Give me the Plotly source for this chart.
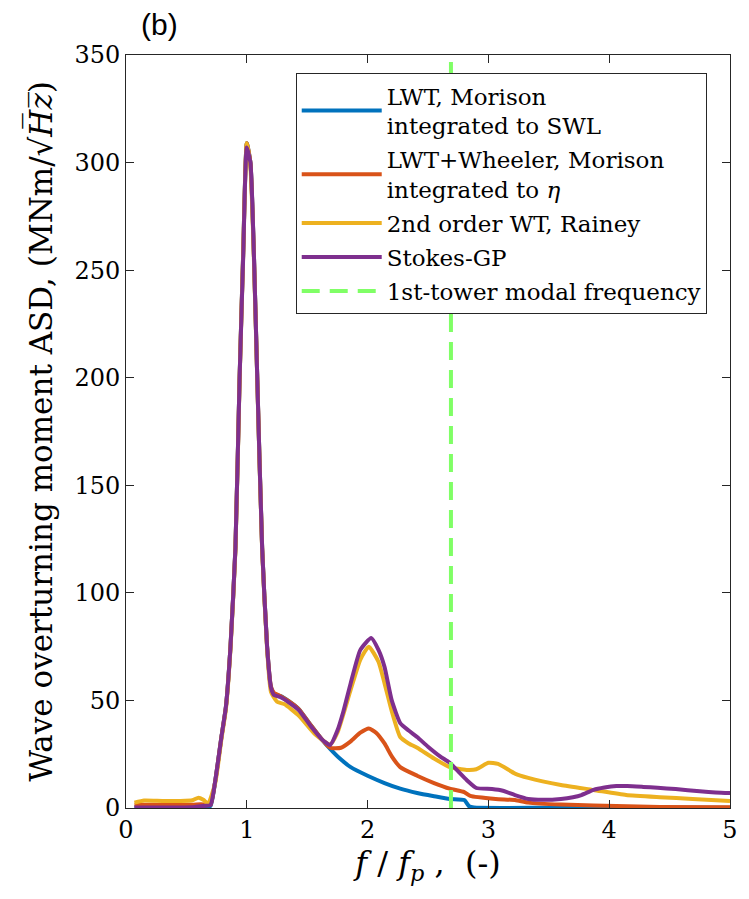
import plotly.graph_objects as go

# ---- data ----
x_lwt = [0.07, 0.3, 0.55, 0.62, 0.66, 0.70, 0.74, 0.79, 0.827, 0.865, 0.906, 0.94, 0.97, 1.0, 1.03, 1.06,
         1.087, 1.127, 1.168, 1.20, 1.225, 1.28, 1.35, 1.43, 1.53, 1.62, 1.69, 1.78, 1.86, 2.0, 2.14, 2.27,
         2.41, 2.55, 2.68, 2.8, 2.84, 2.88, 3.5, 5.0]
y_lwt = [0.3, 0.3, 0.3, 0.5, 0.5, 1.0, 13, 33, 47, 75, 121, 199, 258, 309, 300, 255,
         199, 121, 75, 56, 53, 52, 49.5, 46, 38.5, 32, 27.5, 22.5, 19, 15, 11.6, 9,
         7, 5.5, 4.2, 3.7, 0.8, 0.2, 0.1, 0.1]

x_whe = [0.07, 0.3, 0.55, 0.62, 0.66, 0.70, 0.74, 0.79, 0.827, 0.865, 0.906, 0.94, 0.97, 1.0, 1.03, 1.06,
         1.087, 1.127, 1.168, 1.20, 1.225, 1.28, 1.35, 1.43, 1.53, 1.62, 1.69, 1.78, 1.86, 1.94, 2.01, 2.07,
         2.14, 2.2, 2.27, 2.41, 2.55, 2.68, 2.8, 2.85, 3.06, 3.22, 3.33, 3.6, 3.87, 4.42, 5.0]
y_whe = [1.5, 1.5, 1.5, 1.8, 1.5, 1.5, 13, 33, 47, 75, 121, 199, 258, 309, 300, 255,
         199, 121, 75, 56.5, 53.5, 52, 49.5, 46, 38.5, 32, 28, 28, 31, 35, 37, 35,
         30, 24, 19, 15, 11.6, 9, 7.4, 5.6, 4.2, 3.7, 2.5, 1.6, 1.2, 0.5, 0.3]

x_rai = [0.07, 0.15, 0.3, 0.45, 0.55, 0.6, 0.64, 0.68, 0.74, 0.79, 0.827, 0.865, 0.906, 0.94, 0.97, 1.0,
         1.03, 1.06, 1.087, 1.127, 1.168, 1.20, 1.25, 1.31, 1.43, 1.57, 1.69, 1.75, 1.86, 1.94, 2.01, 2.09,
         2.14, 2.2, 2.27, 2.34, 2.41, 2.55, 2.68, 2.82, 2.9, 3.0, 3.08, 3.22, 3.33, 3.6, 3.87, 4.14,
         4.42, 4.69, 5.0]
y_rai = [2.5, 3.5, 3.3, 3.3, 3.6, 4.8, 3.8, 2, 12, 32, 46, 74, 120, 198, 257, 309,
         298, 253, 198, 120, 74, 54, 49.4, 48.3, 43, 34, 29.5, 35, 55, 69, 75, 68,
         58, 45, 33, 30, 28, 23, 19, 17.7, 18, 21, 20.5, 16, 14, 10.7, 8.4, 6,
         5, 4.2, 3.3]

x_sgp = [0.07, 0.3, 0.55, 0.62, 0.66, 0.70, 0.74, 0.79, 0.827, 0.865, 0.906, 0.94, 0.97, 1.0, 1.03, 1.06,
         1.087, 1.127, 1.168, 1.20, 1.225, 1.28, 1.35, 1.43, 1.53, 1.62, 1.69, 1.75, 1.80, 1.86, 1.94, 2.03,
         2.09, 2.14, 2.2, 2.27, 2.34, 2.41, 2.5, 2.6, 2.68, 2.75, 2.82, 2.9, 3.03, 3.12, 3.22, 3.33,
         3.45, 3.6, 3.7, 3.77, 3.87, 3.96, 4.06, 4.15, 4.28, 4.4, 4.55, 4.75, 4.96, 5.0]
y_sgp = [0.2, 0.2, 0.3, 0.8, 1.0, 1.5, 13, 33, 47, 75, 121, 199, 256, 307, 300, 255,
         199, 121, 75, 56, 52.5, 51.5, 49, 45.5, 38, 32, 29.3, 36, 45, 58, 73.5, 79,
         73.5, 65.6, 50, 39.5, 36, 33, 28.5, 24, 21, 17, 13, 9.3, 8.8, 8.0, 6, 4.2,
         3.8, 4.2, 5, 6, 8.4, 9.5, 10.2, 10.2, 9.8, 9.4, 8.8, 7.8, 7.0, 7.0]

modal_freq = 2.69
y_range = [0, 350]
x_ticks = [0, 1, 2, 3, 4, 5]
y_ticks = [0, 50, 100, 150, 200, 250, 300, 350]

names = ["LWT, Morison<br>integrated to SWL",
         "LWT+Wheeler, Morison<br>integrated to <i>η</i>",
         "2nd order WT, Rainey",
         "Stokes-GP",
         "1st-tower modal frequency"]
colors = ["#0072BD", "#D95319", "#EDB120", "#7E2F8E", "#80FF66"]

SERIF = "DejaVu Serif"

fig = go.Figure()
for xs, ys, nm, c in zip([x_lwt, x_whe, x_rai, x_sgp], [y_lwt, y_whe, y_rai, y_sgp], names[:4], colors[:4]):
    fig.add_trace(go.Scatter(x=xs, y=ys, mode="lines", name=nm, legendgroup=nm,
                             line=dict(color=c, width=4, shape="spline", smoothing=0.5)))
fig.add_trace(go.Scatter(x=[modal_freq, modal_freq], y=y_range, mode="lines", name=names[4],
                         legendgroup=names[4],
                         line=dict(color=colors[4], width=4, dash="18px,10px")))

axis_common = dict(showline=True, linecolor="#262626", linewidth=1, mirror="ticks",
                   ticks="inside", ticklen=8, tickcolor="#262626", showgrid=False, zeroline=False,
                   tickfont=dict(family=SERIF, size=24, color="#000"))

fig.update_layout(
    width=749, height=899,
    margin=dict(l=126, r=11, t=55, b=91),
    plot_bgcolor="white", paper_bgcolor="white",
    xaxis=dict(range=[0, 5], tickvals=x_ticks, **axis_common,
               title=dict(text="<i>f</i> / <i>f</i><sub><i>p</i></sub> ,  (-)",
                          font=dict(family=SERIF, size=32, color="#000"), standoff=4)),
    yaxis=dict(range=y_range, tickvals=y_ticks, **axis_common,
               title=dict(text="Wave overturning moment ASD, (MNm/√<i>H̅z̅</i>)",
                          font=dict(family=SERIF, size=31, color="#000"), standoff=12)),
    legend=dict(x=0.281, y=0.976, xanchor="left", yanchor="top",
                bgcolor="white", bordercolor="#262626", borderwidth=1,
                font=dict(family=SERIF, size=23, color="#000"),
                itemwidth=80, tracegroupgap=1),
    showlegend=True,
)
fig.add_annotation(text="(b)", xref="paper", yref="paper", x=0.056, y=1.04,
                   xanchor="center", yanchor="middle", showarrow=False,
                   font=dict(family="Liberation Sans", size=30, color="#000"))

fig.write_html("out.html")
